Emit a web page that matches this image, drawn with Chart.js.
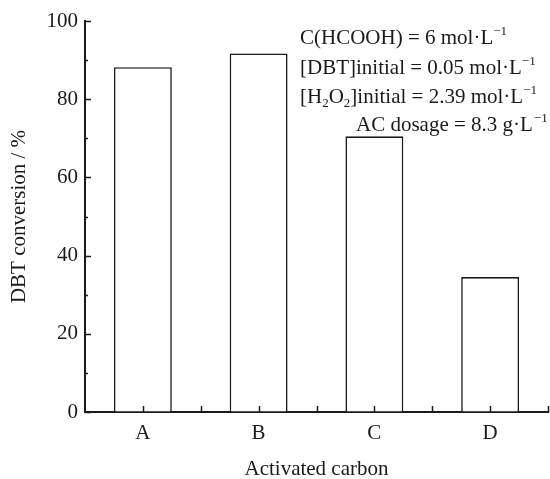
<!DOCTYPE html>
<html>
<head>
<meta charset="utf-8">
<script src="https://cdn.jsdelivr.net/npm/chart.js@4.4.1/dist/chart.umd.min.js"></script>
<style>
html,body{margin:0;padding:0;background:#fff;}
#wrap{width:550px;height:479px;position:relative;}
</style>
</head>
<body>
<div id="wrap"><canvas id="c" width="550" height="479"></canvas></div>
<script>
const categories = ['A', 'B', 'C', 'D'];
const conversion = [88.2, 91.7, 70.5, 34.5];
const yMajorTicks = [0, 20, 40, 60, 80, 100];
const yMinorTicks = [10, 30, 50, 70, 90];
const xTitle = 'Activated carbon';
const yTitle = 'DBT conversion / %';
const noteLines = [
  [{t: 'C(HCOOH) = 6 mol·L'}, {t: '−1', s: 'sup'}],
  [{t: '[DBT]initial = 0.05 mol·L'}, {t: '−1', s: 'sup'}],
  [{t: '[H'}, {t: '2', s: 'sub'}, {t: 'O'}, {t: '2', s: 'sub'}, {t: ']initial = 2.39 mol·L'}, {t: '−1', s: 'sup'}],
  [{t: 'AC dosage = 8.3 g·L'}, {t: '−1', s: 'sup', gap: 1}]
];

const FONT = "'Liberation Serif', 'Times New Roman', serif";
const INK = '#1a1a1a';

const inwardTicks = {
  id: 'inwardTicks',
  afterDraw(chart) {
    const ctx = chart.ctx;
    const x = chart.scales.x, y = chart.scales.y;
    const area = chart.chartArea;
    ctx.save();
    ctx.strokeStyle = INK;
    ctx.lineWidth = 1.5;
    ctx.beginPath();
    yMajorTicks.forEach(v => {
      const py = Math.round(y.getPixelForValue(v)) + 0.5;
      ctx.moveTo(area.left, py); ctx.lineTo(area.left + 6, py);
    });
    yMinorTicks.forEach(v => {
      const py = Math.round(y.getPixelForValue(v)) + 0.5;
      ctx.moveTo(area.left, py); ctx.lineTo(area.left + 3, py);
    });
    // x ticks at category centres and boundaries
    for (let i = 0; i < categories.length; i++) {
      const c = x.getPixelForValue(i);
      const half = (x.getPixelForValue(1) - x.getPixelForValue(0)) / 2;
      [c, c + half].forEach(px => {
        const p = Math.round(px) + 0.5;
        ctx.moveTo(p, area.bottom); ctx.lineTo(p, area.bottom - 6);
      });
    }
    ctx.stroke();

    // annotation text
    ctx.fillStyle = INK;
    ctx.textBaseline = 'alphabetic';
    const starts = [300, 300, 300, 356];
    const baselines = [44, 74, 103, 131];
    noteLines.forEach((line, li) => {
      let cx = starts[li];
      const by = baselines[li];
      line.forEach(seg => {
        if (seg.s === 'sup') {
          ctx.font = '13px ' + FONT;
          cx += (seg.gap || 0);
          ctx.fillText(seg.t, cx, by - 9);
        } else if (seg.s === 'sub') {
          ctx.font = '13px ' + FONT;
          ctx.fillText(seg.t, cx, by + 4);
        } else {
          ctx.font = '21px ' + FONT;
          ctx.fillText(seg.t, cx, by);
        }
        cx += ctx.measureText(seg.t).width;
      });
    });
    ctx.restore();
  }
};

new Chart(document.getElementById('c'), {
  type: 'bar',
  data: {
    labels: categories,
    datasets: [{
      data: conversion,
      backgroundColor: '#ffffff',
      borderColor: INK,
      borderWidth: 1.6,
      borderSkipped: 'bottom',
      barPercentage: 0.5,
      categoryPercentage: 1.0
    }]
  },
  options: {
    responsive: false,
    animation: false,
    devicePixelRatio: 1,
    layout: {padding: {top: 21, right: 2, left: 0, bottom: 0}},
    plugins: {legend: {display: false}, tooltip: {enabled: false}},
    scales: {
      x: {
        offset: true,
        grid: {display: true, drawOnChartArea: false, drawTicks: false},
        border: {display: true, color: INK, width: 2},
        ticks: {color: INK, font: {family: FONT, size: 21}, padding: 9},
        title: {display: true, text: xTitle, color: INK, font: {family: FONT, size: 21, lineHeight: 0.9}, padding: {top: 15, bottom: 0}},
        afterFit(s) { s.height = 67; }
      },
      y: {
        min: 0, max: 100,
        afterBuildTicks(s) { s.ticks = yMajorTicks.map(v => ({value: v})); },
        grid: {display: true, drawOnChartArea: false, drawTicks: false},
        border: {display: true, color: INK, width: 2},
        ticks: {color: INK, font: {family: FONT, size: 21}, padding: 7},
        title: {display: true, text: yTitle, color: INK, font: {family: FONT, size: 21}, padding: {top: 7, bottom: 0}},
        afterFit(s) { s.width = 85; }
      }
    }
  },
  plugins: [inwardTicks]
});
</script>
</body>
</html>
